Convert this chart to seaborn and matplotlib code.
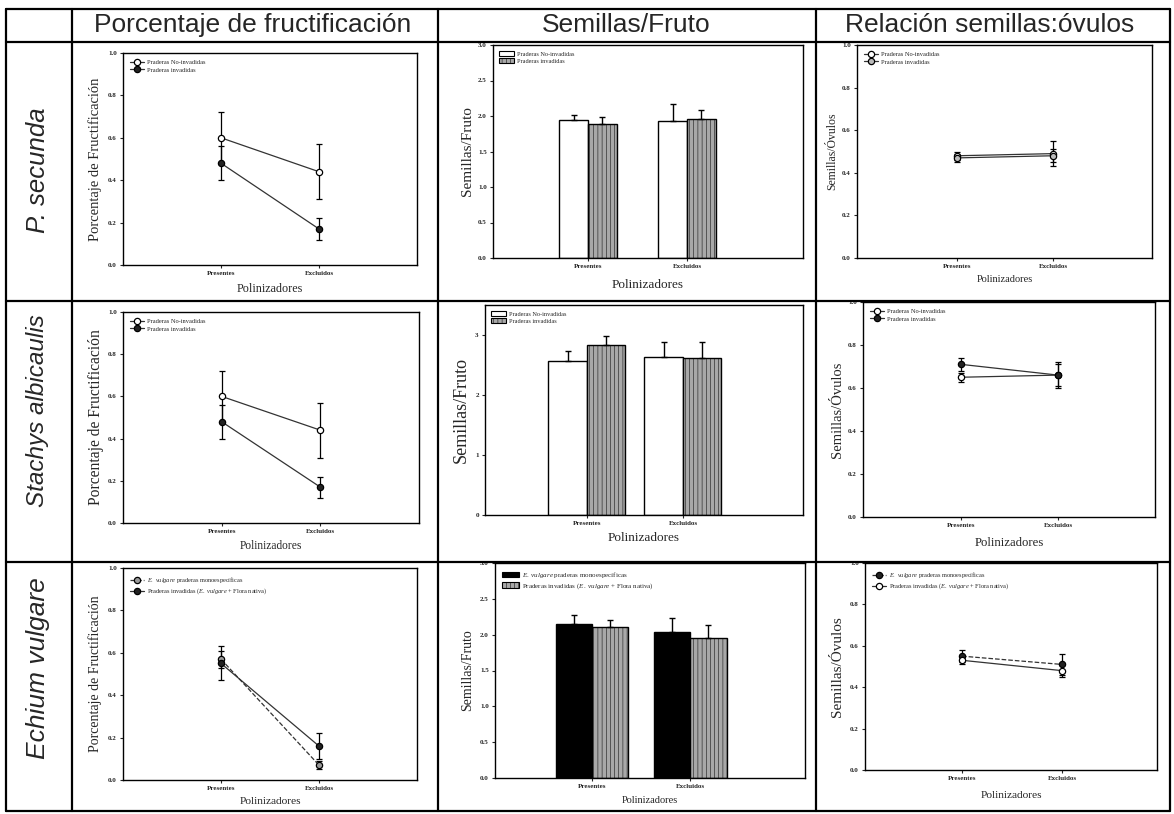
import numpy as np
import pandas as pd
import matplotlib
matplotlib.use("Agg")
import matplotlib.pyplot as plt
import matplotlib.lines as mlines
import matplotlib.patches as mpatches
import seaborn as sns

# ---------------- data ----------------
pollinators = ["Presentes", "Excluidos"]
col_titles = ["Porcentaje de fructificación", "Semillas/Fruto", "Relación semillas:óvulos"]
species = ["P. secunda", "Stachys albicaulis", "Echium vulgare"]
groups_ab = ["Praderas No-invadidas", "Praderas invadidas"]
groups_e = [r"$\mathit{E.\ vulgare}$ praderas monoespecíficas",
            r"Praderas invadidas ($\mathit{E.\ vulgare}$ + Flora nativa)"]
xlabel = "Polinizadores"
ylab_fruit = "Porcentaje de Fructificación"
ylab_seed = "Semillas/Fruto"
ylab_ratio = "Semillas/Óvulos"

# Fruit set (proportion)
ps_fruit_noinv, ps_fruit_noinv_err = [0.60, 0.44], [0.12, 0.13]
ps_fruit_inv, ps_fruit_inv_err = [0.48, 0.17], [0.08, 0.05]
sa_fruit_noinv, sa_fruit_noinv_err = [0.60, 0.44], [0.12, 0.13]
sa_fruit_inv, sa_fruit_inv_err = [0.48, 0.17], [0.08, 0.05]
ev_fruit_mono, ev_fruit_mono_err = [0.57, 0.07], [0.04, 0.02]
ev_fruit_inv, ev_fruit_inv_err = [0.55, 0.16], [0.08, 0.06]

# Seeds per fruit
ps_seed_noinv, ps_seed_noinv_err = [1.94, 1.93], [0.07, 0.24]
ps_seed_inv, ps_seed_inv_err = [1.89, 1.96], [0.09, 0.13]
sa_seed_noinv, sa_seed_noinv_err = [2.57, 2.64], [0.17, 0.24]
sa_seed_inv, sa_seed_inv_err = [2.83, 2.61], [0.15, 0.27]
ev_seed_mono, ev_seed_mono_err = [2.15, 2.04], [0.12, 0.19]
ev_seed_inv, ev_seed_inv_err = [2.11, 1.96], [0.10, 0.18]

# Seed : ovule ratio
ps_ratio_noinv, ps_ratio_noinv_err = [0.48, 0.49], [0.02, 0.06]
ps_ratio_inv, ps_ratio_inv_err = [0.47, 0.48], [0.02, 0.03]
sa_ratio_noinv, sa_ratio_noinv_err = [0.65, 0.66], [0.02, 0.06]
sa_ratio_inv, sa_ratio_inv_err = [0.71, 0.66], [0.03, 0.05]
ev_ratio_mono, ev_ratio_mono_err = [0.55, 0.51], [0.03, 0.05]
ev_ratio_inv, ev_ratio_inv_err = [0.53, 0.48], [0.02, 0.03]

# ---------------- style ----------------
sns.set_style("ticks")
plt.rcParams["font.family"] = ["Liberation Serif", "DejaVu Serif"]
plt.rcParams["mathtext.fontset"] = "custom"
plt.rcParams["mathtext.it"] = "Liberation Serif:italic"
plt.rcParams["mathtext.rm"] = "Liberation Serif"
plt.rcParams["hatch.linewidth"] = 0.35

W, H = 1174, 814
fig = plt.figure(figsize=(W / 100, H / 100), dpi=100)
fig.patch.set_facecolor("white")


def rect(l, t, r, b):
    return [l / W, 1 - b / H, (r - l) / W, (b - t) / H]


def style_axes(ax, ylim, yticks, yfmt, xlim, ylabel, ylsize, xlsize, ypad, xpad):
    ax.set_xlim(*xlim)
    ax.set_ylim(*ylim)
    ax.set_yticks(yticks)
    ax.set_yticklabels([yfmt.format(v) for v in yticks], fontweight="bold")
    ax.set_xticks(range(len(pollinators)))
    ax.set_xticklabels(pollinators, fontweight="bold")
    for s in ax.spines.values():
        s.set_visible(True)
        s.set_linewidth(1.0)
        s.set_color("black")
    ax.tick_params(axis="both", direction="out", length=2.5, width=0.8, labelsize=5, pad=2)
    ax.set_xlabel(xlabel, fontsize=xlsize, labelpad=xpad)
    ax.set_ylabel(ylabel, fontsize=ylsize, labelpad=ypad)


def line_panel(ax, v1, e1, v2, e2, labels, faces, styles):
    df = pd.DataFrame({
        "Polinizadores": pollinators * 2,
        "valor": v1 + v2,
        "grupo": [labels[0]] * len(v1) + [labels[1]] * len(v2),
    })
    sns.pointplot(data=df, x="Polinizadores", y="valor", hue="grupo",
                  order=pollinators, hue_order=labels,
                  palette=["#333333", "#333333"], markers=["o", "o"],
                  linestyles=styles, errorbar=None, dodge=False, legend=False,
                  ax=ax, markersize=4.5, linewidth=0.9)
    lines = list(ax.lines)
    for ln, fc in zip(lines, faces):
        ln.set_markerfacecolor(fc)
        ln.set_markeredgecolor("black")
        ln.set_markeredgewidth(0.9)
        ln.set_zorder(5)
    for vals, errs in ((v1, e1), (v2, e2)):
        ax.errorbar(range(len(pollinators)), vals, yerr=errs, fmt="none",
                    ecolor="black", elinewidth=0.9, capsize=2.5, capthick=0.9, zorder=4)
    ax.legend(handles=lines, labels=labels, loc="upper left", bbox_to_anchor=(0.0, 1.0),
              fontsize=4.6, frameon=False, handlelength=2.2, handletextpad=0.5,
              labelspacing=0.25, borderaxespad=0.7)


def bar_panel(ax, v1, e1, v2, e2, labels, colors, hatches, width, lfs):
    df = pd.DataFrame({
        "Polinizadores": pollinators * 2,
        "valor": v1 + v2,
        "grupo": [labels[0]] * len(v1) + [labels[1]] * len(v2),
    })
    sns.barplot(data=df, x="Polinizadores", y="valor", hue="grupo",
                order=pollinators, hue_order=labels, palette=colors,
                width=width, errorbar=None, edgecolor="black", linewidth=1.0,
                legend=False, ax=ax)
    bars = list(ax.patches)
    errs = e1 + e2
    n = len(pollinators)
    for i, (p, err) in enumerate(zip(bars, errs)):
        if hatches[i // n]:
            p.set_hatch(hatches[i // n])
        xc = p.get_x() + p.get_width() / 2
        ax.errorbar([xc], [p.get_height()], yerr=[[0], [err]], fmt="none",
                    ecolor="black", elinewidth=1.0, capsize=2.5, capthick=1.0, zorder=4)
    handles = [mpatches.Patch(facecolor=c, edgecolor="black", hatch=h, linewidth=0.8)
               for c, h in zip(colors, hatches)]
    ax.legend(handles=handles, labels=labels, loc="upper left", bbox_to_anchor=(0.0, 1.0),
              fontsize=lfs, frameon=False, handlelength=2.4, handleheight=0.9,
              handletextpad=0.5, labelspacing=0.15, borderaxespad=0.6)


gray = "#a8a8a8"

# ---------- row 1: P. secunda ----------
ax = fig.add_axes(rect(123, 53, 417, 265))
line_panel(ax, ps_fruit_noinv, ps_fruit_noinv_err, ps_fruit_inv, ps_fruit_inv_err,
           groups_ab, ["white", "#222222"], ["-", "-"])
style_axes(ax, (0, 1.0), [0, 0.2, 0.4, 0.6, 0.8, 1.0], "{:.1f}", (-1, 2),
           ylab_fruit, 10.5, 8.7, 4, 5)

ax = fig.add_axes(rect(493, 45, 803, 258))
bar_panel(ax, ps_seed_noinv, ps_seed_noinv_err, ps_seed_inv, ps_seed_inv_err,
          groups_ab, ["white", gray], [None, "||||"], 0.58, 4.5)
style_axes(ax, (0, 3.0), [0, 0.5, 1.0, 1.5, 2.0, 2.5, 3.0], "{:.1f}", (-0.96, 2.17),
           ylab_seed, 11, 9.5, 3, 7)

ax = fig.add_axes(rect(857, 45, 1152, 258))
line_panel(ax, ps_ratio_noinv, ps_ratio_noinv_err, ps_ratio_inv, ps_ratio_inv_err,
           groups_ab, ["white", "#bbbbbb"], ["-", "-"])
style_axes(ax, (0, 1.0), [0, 0.2, 0.4, 0.6, 0.8, 1.0], "{:.1f}", (-1.04, 2.03),
           ylab_ratio, 8.5, 7.5, 3, 4)

# ---------- row 2: Stachys albicaulis ----------
ax = fig.add_axes(rect(123, 312, 419, 523))
line_panel(ax, sa_fruit_noinv, sa_fruit_noinv_err, sa_fruit_inv, sa_fruit_inv_err,
           groups_ab, ["white", "#222222"], ["-", "-"])
style_axes(ax, (0, 1.0), [0, 0.2, 0.4, 0.6, 0.8, 1.0], "{:.1f}", (-1, 2),
           ylab_fruit, 11.2, 8.3, 3, 4)

ax = fig.add_axes(rect(485, 305, 803, 515))
bar_panel(ax, sa_seed_noinv, sa_seed_noinv_err, sa_seed_inv, sa_seed_inv_err,
          groups_ab, ["white", gray], [None, "||||"], 0.8, 4.5)
style_axes(ax, (0, 3.5), [0, 1, 2, 3], "{:.0f}", (-1.06, 2.25),
           ylab_seed, 13, 9.5, 4, 4)

ax = fig.add_axes(rect(863, 302, 1155, 517))
line_panel(ax, sa_ratio_noinv, sa_ratio_noinv_err, sa_ratio_inv, sa_ratio_inv_err,
           groups_ab, ["white", "#222222"], ["-", "-"])
style_axes(ax, (0, 1.0), [0, 0.2, 0.4, 0.6, 0.8, 1.0], "{:.1f}", (-1.01, 2.0),
           ylab_ratio, 10.5, 9.2, 3, 6)

# ---------- row 3: Echium vulgare ----------
ax = fig.add_axes(rect(123, 568, 417, 780))
line_panel(ax, ev_fruit_mono, ev_fruit_mono_err, ev_fruit_inv, ev_fruit_inv_err,
           groups_e, ["#9a9a9a", "#222222"], ["--", "-"])
style_axes(ax, (0, 1.0), [0, 0.2, 0.4, 0.6, 0.8, 1.0], "{:.1f}", (-1, 2),
           ylab_fruit, 10, 8.2, 4, 4)

ax = fig.add_axes(rect(495, 563, 805, 778))
bar_panel(ax, ev_seed_mono, ev_seed_mono_err, ev_seed_inv, ev_seed_inv_err,
          groups_e, ["black", gray], [None, "||||"], 0.74, 5)
style_axes(ax, (0, 3.0), [0, 0.5, 1.0, 1.5, 2.0, 2.5, 3.0], "{:.1f}", (-0.99, 2.17),
           ylab_seed, 10, 7.5, 4, 5)

ax = fig.add_axes(rect(865, 563, 1157, 770))
line_panel(ax, ev_ratio_mono, ev_ratio_mono_err, ev_ratio_inv, ev_ratio_inv_err,
           groups_e, ["#222222", "white"], ["--", "-"])
style_axes(ax, (0, 1.0), [0, 0.2, 0.4, 0.6, 0.8, 1.0], "{:.1f}", (-0.97, 1.95),
           ylab_ratio, 11, 8.2, 4, 7)

# ---------------- table frame ----------------
def hline(y, x0=6, x1=1170, lw=1.6):
    fig.add_artist(mlines.Line2D([x0 / W, x1 / W], [1 - y / H, 1 - y / H],
                                 color="black", lw=lw, transform=fig.transFigure))


def vline(x, y0=9, y1=811, lw=1.6):
    fig.add_artist(mlines.Line2D([x / W, x / W], [1 - y0 / H, 1 - y1 / H],
                                 color="black", lw=lw, transform=fig.transFigure))


for y in (9, 42, 301, 562, 811):
    hline(y)
for x in (6, 72, 438, 816, 1170):
    vline(x)

head_font = ["Liberation Sans Narrow", "Liberation Sans", "DejaVu Sans"]
for cx, t in zip((253, 626, 990), col_titles):
    fig.text(cx / W, 1 - 25 / H, t, ha="center", va="center", fontsize=19,
             family=head_font)

for cy, sp, fs in zip((170, 411, 668), species, (18.5, 17.5, 19)):
    fig.text(38 / W, 1 - cy / H, sp, ha="center", va="center", fontsize=fs,
             rotation=90, style="italic", family=head_font)

fig.savefig("out.png", dpi=100, facecolor="white")
